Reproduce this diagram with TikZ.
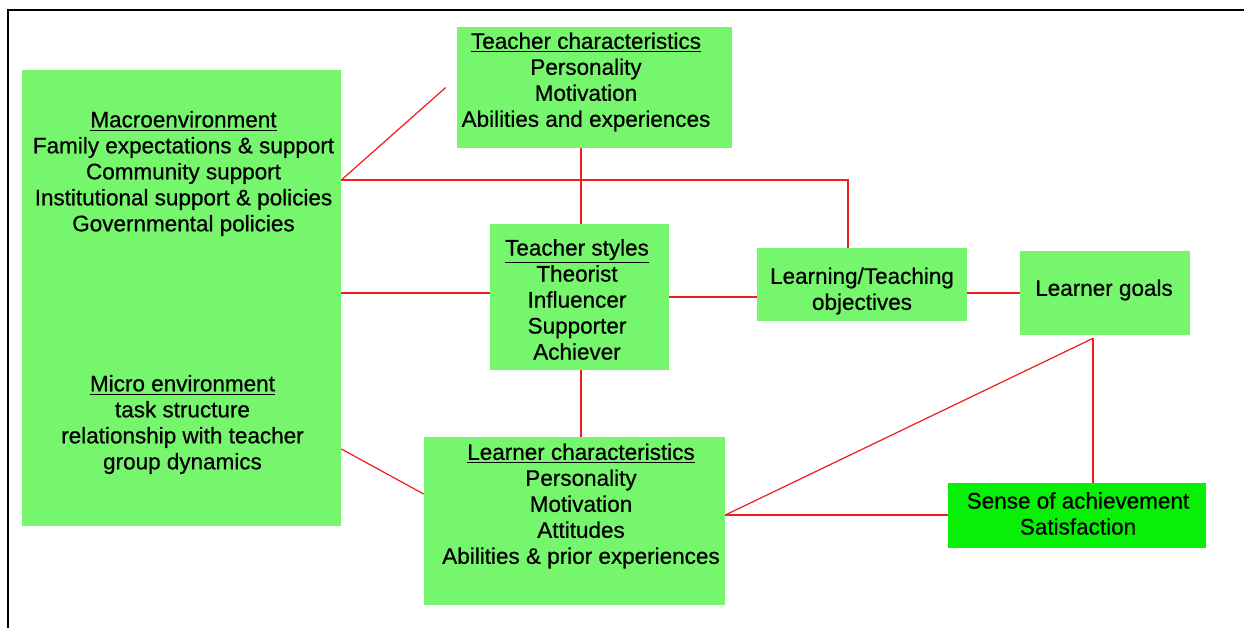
\documentclass[tikz,border=0pt]{standalone}
\usepackage{fontspec}
\setmainfont{Liberation Sans}[UprightFeatures={FakeBold=0.6}]
\newcommand{\boxfont}{\fontsize{12.8}{14.8}\selectfont}
\definecolor{boxgreen}{RGB}{118,246,108}
\definecolor{brightgreen}{RGB}{8,240,8}
\definecolor{linkred}{RGB}{240,30,30}
\tikzset{
    box/.style={fill=boxgreen, inner sep=0pt},
    txt/.style={align=center, inner sep=0pt, font=\boxfont},
    link/.style={draw=linkred, line width=0.7pt},
}
\begin{document}
\begin{tikzpicture}[x=0.02cm, y=-0.02cm]
\useasboundingbox (0,0) rectangle (1244,628);
\draw[line width=1.1pt] (8,628) -- (8,10) -- (1244,10);

\node[box, minimum width=6.38cm, minimum height=9.12cm] (macro) at (181.5,298) {};
\node[txt] (macro-text) at (183.5,173.5) {\underline{Macroenvironment}\\Family expectations \& support\\Community support\\Institutional support \& policies\\Governmental policies};
\node[txt] (micro-text) at (182.5,424.5) {\underline{Micro environment}\\task structure\\relationship with teacher\\group dynamics};

\node[box, minimum width=5.5cm, minimum height=2.42cm] (tchar) at (594.5,87.5) {};
\node[txt] (tchar-text) at (586,82) {\underline{Teacher characteristics}\\Personality\\Motivation\\Abilities and experiences};

\node[box, minimum width=3.58cm, minimum height=2.92cm] (tstyle) at (579.5,297) {};
\node[txt] (tstyle-text) at (577,299.5) {\underline{Teacher styles}\\Theorist\\Influencer\\Supporter\\Achiever};

\node[box, minimum width=4.2cm, minimum height=1.46cm] (ltobj) at (862,284.5) {};
\node[txt] (ltobj-text) at (862,291) {Learning/Teaching\\objectives};

\node[box, minimum width=3.4cm, minimum height=1.68cm] (lgoals) at (1105,293) {};
\node[txt] (lgoals-text) at (1104,290) {Learner goals};

\node[box, minimum width=6.02cm, minimum height=3.36cm] (lchar) at (574.5,521) {};
\node[txt] (lchar-text) at (581,506) {\underline{Learner characteristics}\\Personality\\Motivation\\Attitudes\\Abilities \& prior experiences};

\node[box, fill=brightgreen, minimum width=5.16cm, minimum height=1.3cm] (sense) at (1077,515.5) {};
\node[txt] (sense-text) at (1078,513.5) {Sense of achievement\\Satisfaction};

\coordinate (macro-top) at ([yshift=2.36cm]macro.east);
\coordinate (macro-low) at ([yshift=-3.02cm]macro.east);
\coordinate (tchar-tip) at ([xshift=-0.22cm]tchar.west);
\coordinate (lchar-out) at ([yshift=0.12cm]lchar.east);
\coordinate (goal-foot) at ([xshift=-0.24cm,yshift=-0.06cm]lgoals.south);
\coordinate (tstyle-top) at ([xshift=0.03cm]tstyle.north);
\coordinate (tstyle-bot) at ([xshift=0.03cm]tstyle.south);

\draw[link] (macro-top) -- (tchar-tip);
\draw[link] (macro-top) -| ([xshift=-0.28cm]ltobj.north);
\draw[link] (tstyle-top |- tchar.south) -- (tstyle-top);
\draw[link] ([yshift=0.1cm]macro.east) -- ([yshift=0.1cm]macro.east -| tstyle.west);
\draw[link] (tstyle.east) -- (tstyle.east -| ltobj.west);
\draw[link] (lgoals.west -| ltobj.east) -- (lgoals.west);
\draw[link] (tstyle-bot) -- (tstyle-bot |- lchar.north);
\draw[link] (macro-low) -- ([yshift=0.54cm]lchar.west);
\draw[link] (lchar-out) -- (goal-foot);
\draw[link] (goal-foot) -- (goal-foot |- sense.north);
\draw[link] (lchar-out) -- (lchar-out -| sense.west);
\end{tikzpicture}
\end{document}
